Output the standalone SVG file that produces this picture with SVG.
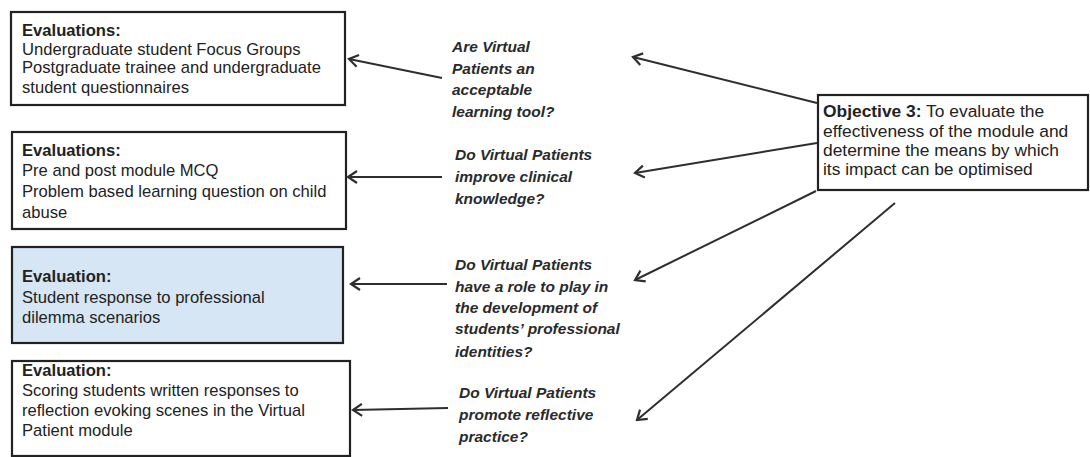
<svg xmlns="http://www.w3.org/2000/svg" width="1090" height="457" viewBox="0 0 1090 457">
  <defs>
    <style>
      .box { fill: #ffffff; stroke: #222222; stroke-width: 2.2; }
      .blue { fill: #d6e6f5; }
      .t { font-family: "Liberation Sans", Arial, sans-serif; font-size: 16.6px; fill: #222222; }
      .b { font-weight: bold; }
      .q { font-family: "Liberation Sans", Arial, sans-serif; font-size: 15.5px; font-style: italic; font-weight: bold; fill: #2a2a2a; }
      .o { font-family: "Liberation Sans", Arial, sans-serif; font-size: 17.4px; fill: #222222; }
      .conn { stroke: #2e2e2e; stroke-width: 2; fill: none; marker-end: url(#arrow); }
    </style>
    <marker id="arrow" markerUnits="userSpaceOnUse" markerWidth="14" markerHeight="16" viewBox="-12 -8 14 16" refX="0" refY="0" orient="auto">
      <path d="M-9,-6 L0,0 L-9,6" fill="none" stroke="#2e2e2e" stroke-width="2.2" stroke-linejoin="miter"/>
    </marker>
  </defs>

  <g id="eval1">
    <rect class="box" x="11" y="12" width="334" height="93"/>
    <text class="t b" x="22" y="36">Evaluations:</text>
    <text class="t" x="22" y="55">Undergraduate student Focus Groups</text>
    <text class="t" x="22" y="73">Postgraduate trainee and undergraduate</text>
    <text class="t" x="22" y="93">student questionnaires</text>
  </g>

  <g id="eval2">
    <rect class="box" x="12" y="132" width="334" height="97"/>
    <text class="t b" x="22" y="156">Evaluations:</text>
    <text class="t" x="22" y="176">Pre and post module MCQ</text>
    <text class="t" x="22" y="197">Problem based learning question on child</text>
    <text class="t" x="22" y="218">abuse</text>
  </g>

  <g id="eval3">
    <rect class="box blue" x="12" y="247" width="331" height="96"/>
    <text class="t b" x="22" y="282">Evaluation:</text>
    <text class="t" x="22" y="303">Student response to professional</text>
    <text class="t" x="22" y="323">dilemma scenarios</text>
  </g>

  <g id="eval4">
    <rect class="box" x="12" y="361" width="338" height="95"/>
    <text class="t b" x="22" y="376">Evaluation:</text>
    <text class="t" x="22" y="396">Scoring students written responses to</text>
    <text class="t" x="22" y="416">reflection evoking scenes in the Virtual</text>
    <text class="t" x="22" y="436">Patient module</text>
  </g>

  <g id="q1">
    <text class="q" x="452" y="52">Are Virtual</text>
    <text class="q" x="452" y="74">Patients an</text>
    <text class="q" x="452" y="95">acceptable</text>
    <text class="q" x="452" y="117">learning tool?</text>
  </g>

  <g id="q2">
    <text class="q" x="455" y="160">Do Virtual Patients</text>
    <text class="q" x="455" y="182">improve clinical</text>
    <text class="q" x="455" y="204">knowledge?</text>
  </g>

  <g id="q3">
    <text class="q" x="455" y="270">Do Virtual Patients</text>
    <text class="q" x="455" y="292">have a role to play in</text>
    <text class="q" x="455" y="313">the development of</text>
    <text class="q" x="455" y="334">students’ professional</text>
    <text class="q" x="455" y="357">identities?</text>
  </g>

  <g id="q4">
    <text class="q" x="459" y="398">Do Virtual Patients</text>
    <text class="q" x="459" y="420">promote reflective</text>
    <text class="q" x="459" y="442">practice?</text>
  </g>

  <g id="objective">
    <rect class="box" x="818" y="95" width="270" height="95"/>
    <text class="o" x="823" y="117"><tspan font-weight="bold">Objective 3:</tspan> To evaluate the</text>
    <text class="o" x="823" y="137">effectiveness of the module and</text>
    <text class="o" x="823" y="156">determine the means by which</text>
    <text class="o" x="823" y="175">its impact can be optimised</text>
  </g>

  <g id="connectors">
    <path class="conn" d="M442,78 L349,59"/>
    <path class="conn" d="M442,177 L348,177"/>
    <path class="conn" d="M447,284 L351,284"/>
    <path class="conn" d="M448,408 L353,410"/>
    <path class="conn" d="M817,103 L633,57"/>
    <path class="conn" d="M817,143 L635,173"/>
    <path class="conn" d="M816,191 L635,280"/>
    <path class="conn" d="M895,203 L637,420"/>
  </g>
</svg>
